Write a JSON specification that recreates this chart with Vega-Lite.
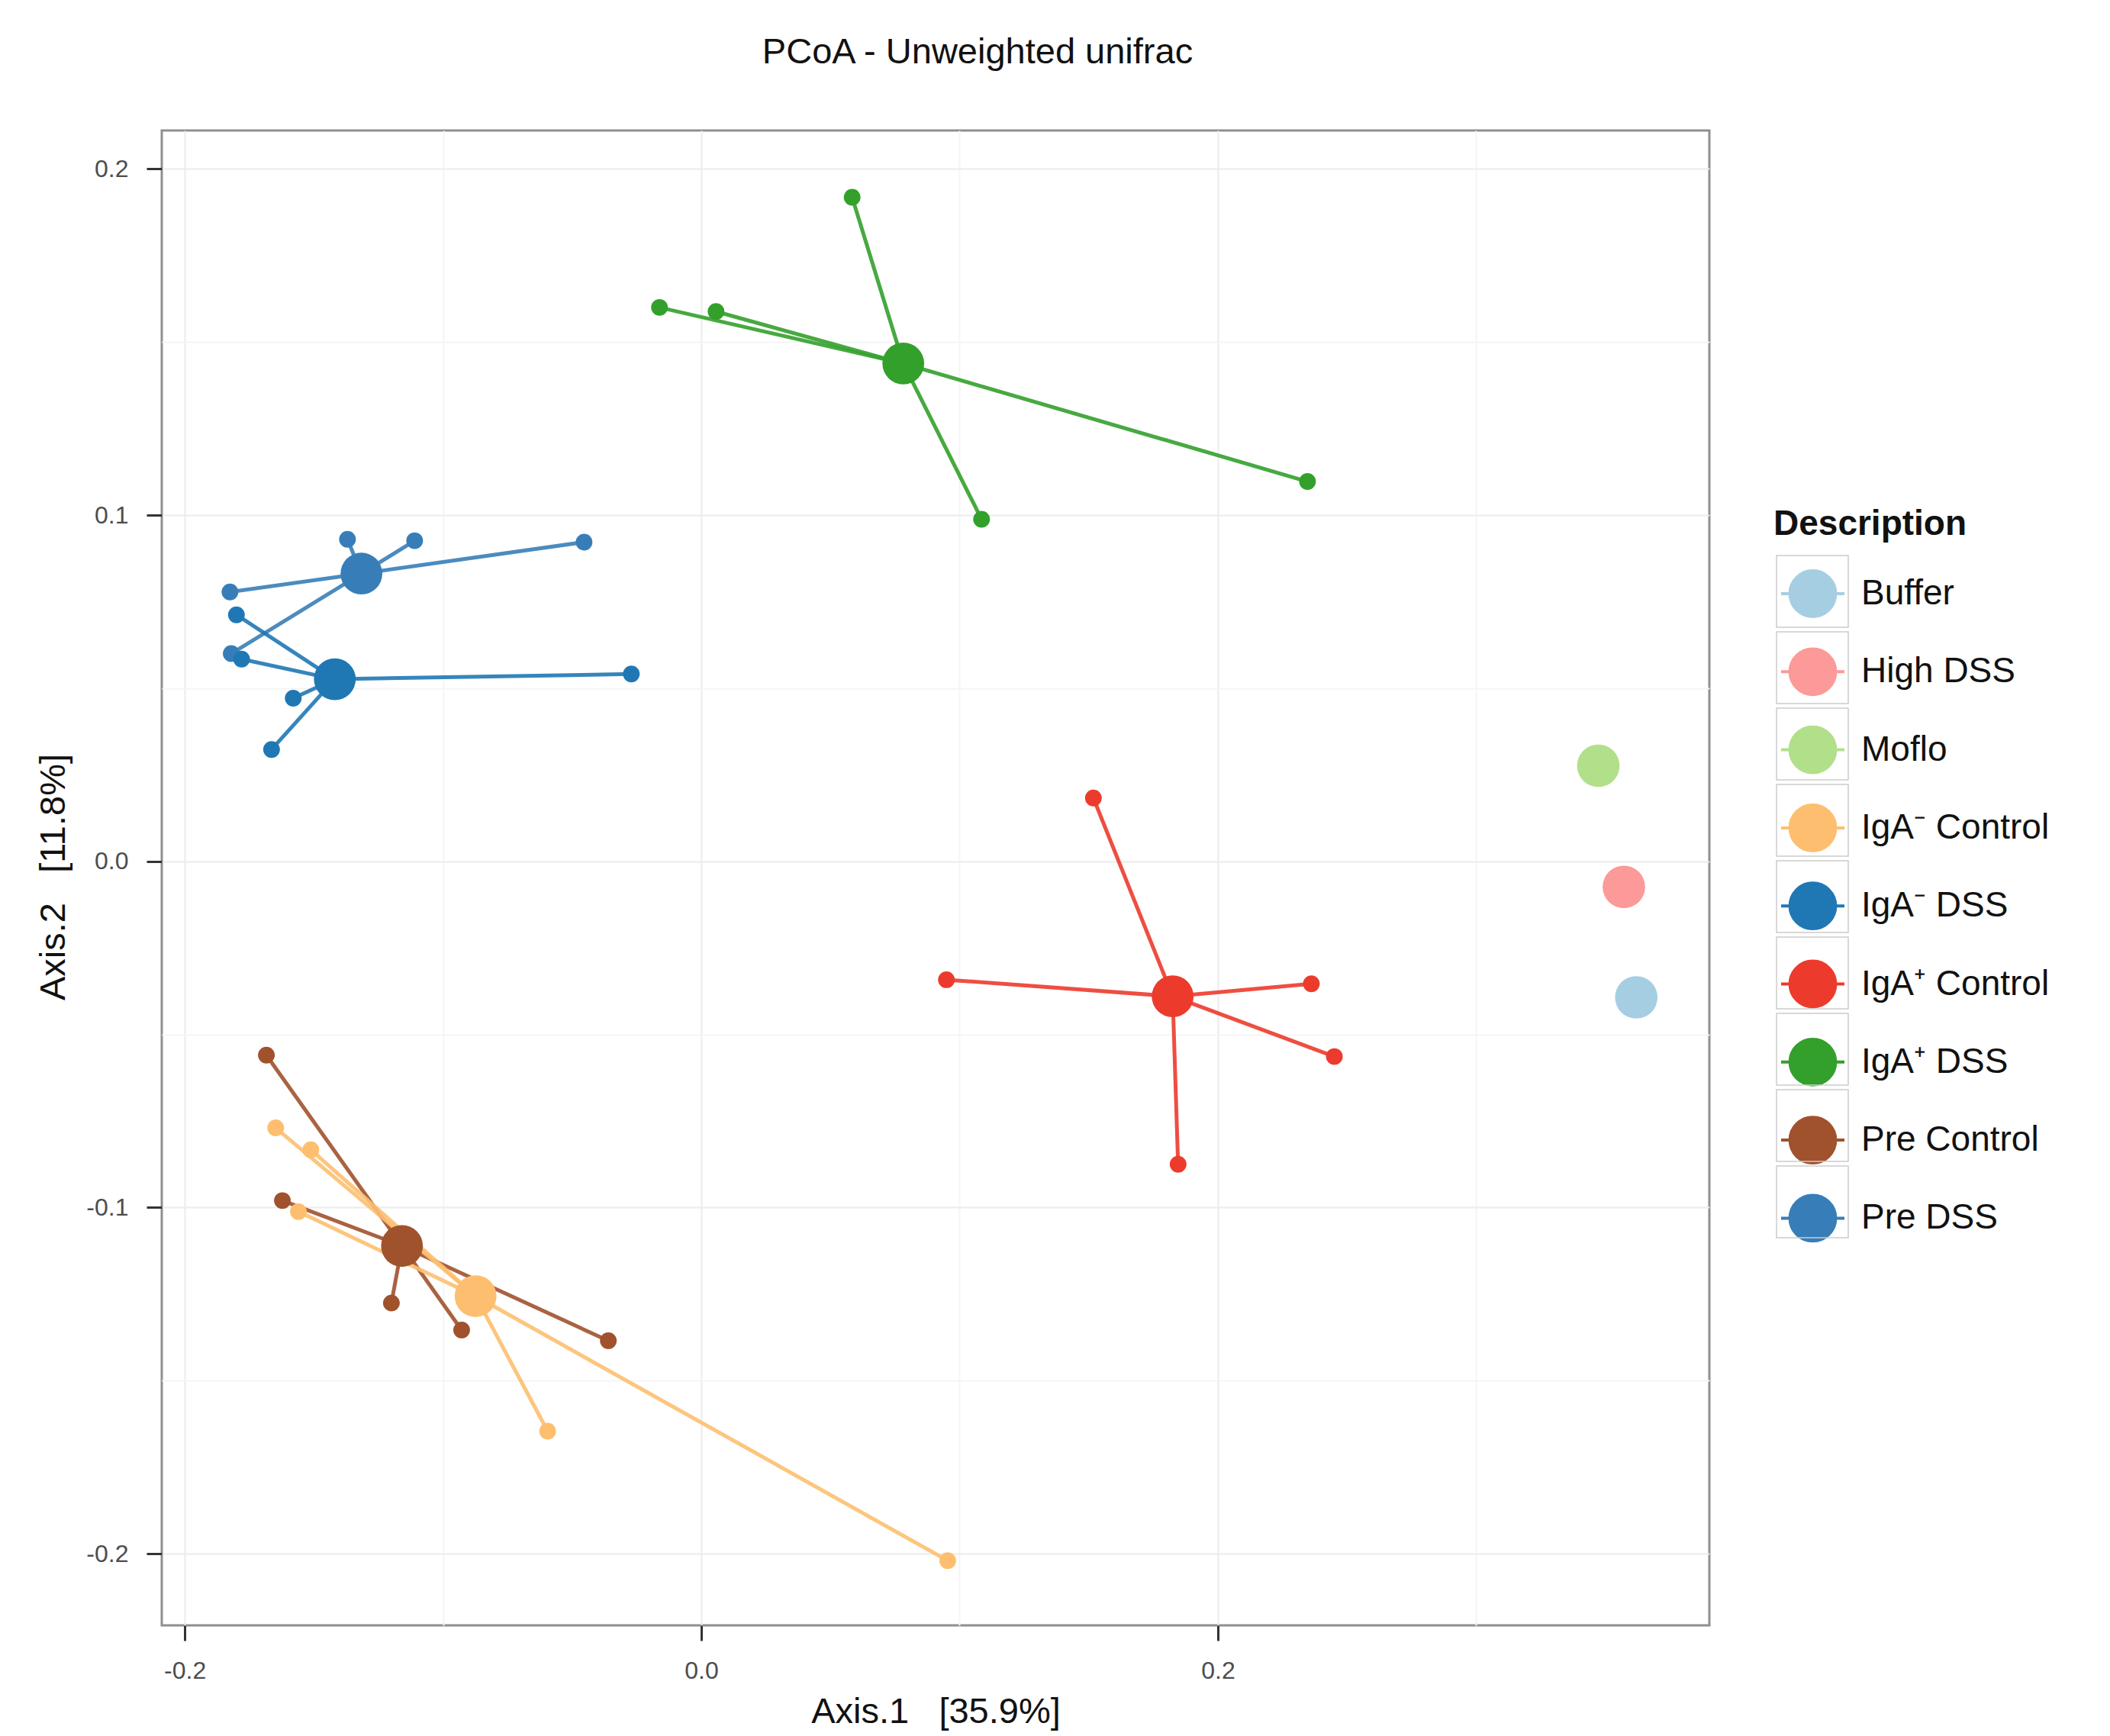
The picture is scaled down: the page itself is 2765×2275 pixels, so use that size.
{
  "$schema": "https://vega.github.io/schema/vega-lite/v6.json",
  "width": 2028,
  "height": 1959,
  "autosize": {"type": "none"},
  "padding": {"left": 212, "top": 171, "right": 525, "bottom": 145},
  "background": "white",
  "title": {"text": "PCoA - Unweighted unifrac", "fontSize": 47, "fontWeight": "normal", "font": "Liberation Sans", "color": "#111111", "anchor": "middle", "dx": 55, "offset": 78},
  "config": {
    "view": {"stroke": "#8f8f8f", "strokeWidth": 3, "fill": "white"},
    "font": "Liberation Sans"
  },
  "data": {"values": [
    {"g": "IgA⁺ DSS", "kind": "sample", "x": 0.0584, "y": 0.1918, "cx": 0.0782, "cy": 0.1438},
    {"g": "IgA⁺ DSS", "kind": "sample", "x": -0.0162, "y": 0.160, "cx": 0.0782, "cy": 0.1438},
    {"g": "IgA⁺ DSS", "kind": "sample", "x": 0.0057, "y": 0.1588, "cx": 0.0782, "cy": 0.1438},
    {"g": "IgA⁺ DSS", "kind": "sample", "x": 0.2347, "y": 0.1097, "cx": 0.0782, "cy": 0.1438},
    {"g": "IgA⁺ DSS", "kind": "sample", "x": 0.1085, "y": 0.0988, "cx": 0.0782, "cy": 0.1438},
    {"g": "IgA⁺ DSS", "kind": "centroid", "x": 0.0782, "y": 0.1438},
    {"g": "Pre DSS", "kind": "sample", "x": -0.137, "y": 0.093, "cx": -0.1316, "cy": 0.0831},
    {"g": "Pre DSS", "kind": "sample", "x": -0.111, "y": 0.0926, "cx": -0.1316, "cy": 0.0831},
    {"g": "Pre DSS", "kind": "sample", "x": -0.0454, "y": 0.0922, "cx": -0.1316, "cy": 0.0831},
    {"g": "Pre DSS", "kind": "sample", "x": -0.1825, "y": 0.0778, "cx": -0.1316, "cy": 0.0831},
    {"g": "Pre DSS", "kind": "sample", "x": -0.182, "y": 0.060, "cx": -0.1316, "cy": 0.0831},
    {"g": "Pre DSS", "kind": "centroid", "x": -0.1316, "y": 0.0831},
    {"g": "IgA⁻ DSS", "kind": "sample", "x": -0.180, "y": 0.0712, "cx": -0.1419, "cy": 0.0526},
    {"g": "IgA⁻ DSS", "kind": "sample", "x": -0.178, "y": 0.0584, "cx": -0.1419, "cy": 0.0526},
    {"g": "IgA⁻ DSS", "kind": "sample", "x": -0.158, "y": 0.0471, "cx": -0.1419, "cy": 0.0526},
    {"g": "IgA⁻ DSS", "kind": "sample", "x": -0.1664, "y": 0.0323, "cx": -0.1419, "cy": 0.0526},
    {"g": "IgA⁻ DSS", "kind": "sample", "x": -0.0271, "y": 0.0541, "cx": -0.1419, "cy": 0.0526},
    {"g": "IgA⁻ DSS", "kind": "centroid", "x": -0.1419, "y": 0.0526},
    {"g": "IgA⁺ Control", "kind": "sample", "x": 0.1518, "y": 0.0183, "cx": 0.1825, "cy": -0.039},
    {"g": "IgA⁺ Control", "kind": "sample", "x": 0.0949, "y": -0.0342, "cx": 0.1825, "cy": -0.039},
    {"g": "IgA⁺ Control", "kind": "sample", "x": 0.2362, "y": -0.0354, "cx": 0.1825, "cy": -0.039},
    {"g": "IgA⁺ Control", "kind": "sample", "x": 0.2451, "y": -0.0564, "cx": 0.1825, "cy": -0.039},
    {"g": "IgA⁺ Control", "kind": "sample", "x": 0.1846, "y": -0.0875, "cx": 0.1825, "cy": -0.039},
    {"g": "IgA⁺ Control", "kind": "centroid", "x": 0.1825, "y": -0.039},
    {"g": "Pre Control", "kind": "sample", "x": -0.1684, "y": -0.056, "cx": -0.1159, "cy": -0.1111},
    {"g": "Pre Control", "kind": "sample", "x": -0.1622, "y": -0.098, "cx": -0.1159, "cy": -0.1111},
    {"g": "Pre Control", "kind": "sample", "x": -0.12, "y": -0.1276, "cx": -0.1159, "cy": -0.1111},
    {"g": "Pre Control", "kind": "sample", "x": -0.0928, "y": -0.1354, "cx": -0.1159, "cy": -0.1111},
    {"g": "Pre Control", "kind": "sample", "x": -0.036, "y": -0.1385, "cx": -0.1159, "cy": -0.1111},
    {"g": "Pre Control", "kind": "centroid", "x": -0.1159, "y": -0.1111},
    {"g": "IgA⁻ Control", "kind": "sample", "x": -0.1648, "y": -0.077, "cx": -0.0874, "cy": -0.1256},
    {"g": "IgA⁻ Control", "kind": "sample", "x": -0.1512, "y": -0.0833, "cx": -0.0874, "cy": -0.1256},
    {"g": "IgA⁻ Control", "kind": "sample", "x": -0.156, "y": -0.1012, "cx": -0.0874, "cy": -0.1256},
    {"g": "IgA⁻ Control", "kind": "sample", "x": -0.0595, "y": -0.1646, "cx": -0.0874, "cy": -0.1256},
    {"g": "IgA⁻ Control", "kind": "sample", "x": 0.0954, "y": -0.202, "cx": -0.0874, "cy": -0.1256},
    {"g": "IgA⁻ Control", "kind": "centroid", "x": -0.0874, "y": -0.1256},
    {"g": "Buffer", "kind": "single", "x": 0.362, "y": -0.0393},
    {"g": "High DSS", "kind": "single", "x": 0.3572, "y": -0.0074},
    {"g": "Moflo", "kind": "single", "x": 0.3473, "y": 0.0276}
  ]},
  "encoding": {
    "x": {
      "field": "x", "type": "quantitative",
      "scale": {"domain": [-0.2089, 0.3903], "nice": false, "zero": false},
      "axis": {
        "title": "Axis.1\u00a0\u00a0\u00a0[35.9%]",
        "values": [-0.2, -0.1, 0, 0.1, 0.2, 0.3],
        "labelExpr": "abs(round(datum.value*10)) % 2 == 0 ? replace(format(datum.value, '.1f'), '−', '-') : ''",
        "tickOpacity": {"condition": {"test": "abs(round(datum.value*10)) % 2 == 1", "value": 0}, "value": 1},
        "gridColor": {"condition": {"test": "abs(round(datum.value*10)) % 2 == 1", "value": "#f5f5f5"}, "value": "#ececec"},
        "gridWidth": 2,
        "domain": false,
        "tickSize": 20, "tickWidth": 3, "tickColor": "#333333",
        "labelFontSize": 32, "labelColor": "#4d4d4d", "labelPadding": 24,
        "labelFont": "Liberation Sans",
        "titleFontSize": 47, "titleFontWeight": "normal", "titleColor": "#111111",
        "titleFont": "Liberation Sans",
        "titleX": 1014, "titleY": 113, "titleBaseline": "middle", "titleAlign": "center"
      }
    },
    "y": {
      "field": "y", "type": "quantitative",
      "scale": {"domain": [-0.2207, 0.2111], "nice": false, "zero": false},
      "axis": {
        "title": "Axis.2\u00a0\u00a0\u00a0[11.8%]",
        "values": [-0.2, -0.15, -0.1, -0.05, 0, 0.05, 0.1, 0.15, 0.2],
        "labelExpr": "abs(round(datum.value*100)) % 10 == 0 ? replace(format(datum.value, '.1f'), '−', '-') : ''",
        "tickOpacity": {"condition": {"test": "abs(round(datum.value*100)) % 10 != 0", "value": 0}, "value": 1},
        "gridColor": {"condition": {"test": "abs(round(datum.value*100)) % 10 != 0", "value": "#f5f5f5"}, "value": "#ececec"},
        "gridWidth": 2,
        "domain": false,
        "tickSize": 20, "tickWidth": 3, "tickColor": "#333333",
        "labelFontSize": 32, "labelColor": "#4d4d4d", "labelPadding": 24,
        "labelFont": "Liberation Sans",
        "titleFontSize": 47, "titleFontWeight": "normal", "titleColor": "#111111",
        "titleFont": "Liberation Sans",
        "titleX": -142, "titleY": 978, "titleAngle": -90, "titleBaseline": "middle", "titleAlign": "center"
      }
    },
    "color": {
      "field": "g", "type": "nominal",
      "scale": {
        "domain": ["Buffer", "High DSS", "Moflo", "IgA⁻ Control", "IgA⁻ DSS", "IgA⁺ Control", "IgA⁺ DSS", "Pre Control", "Pre DSS"],
        "range": ["#a6cee3", "#fb9a99", "#b2df8a", "#fdbf6f", "#1f78b4", "#ec3b2c", "#33a02c", "#a0522d", "#377eb8"]
      },
      "legend": {
        "title": "Description",
        "orient": "none", "legendX": 2112, "legendY": 494,
        "padding": 0,
        "titleFontSize": 46, "titleFontWeight": "bold", "titleFont": "Liberation Sans", "titleColor": "#111111", "titlePadding": 23.5, "titleLimit": 0,
        "labelFontSize": 46, "labelFont": "Liberation Sans", "labelColor": "#111111", "labelLimit": 0,
        "symbolType": "M-0.72,0A0.72,0.72 0 1,1 0.72,0A0.72,0.72 0 1,1 -0.72,0Z M-1,0L1,0",
        "symbolSize": 6889, "symbolStrokeWidth": 4, "symbolOpacity": 1,
        "rowPadding": 20.3, "labelOffset": 20, "symbolOffset": 8,
        "encode": {"symbols": {"update": {"stroke": {"scale": "color", "field": "value"}, "strokeWidth": {"value": 4}}}}
      }
    }
  },
  "layer": [
    {
      "transform": [{"filter": "datum.kind == 'sample'"}],
      "mark": {"type": "rule", "strokeWidth": 5, "opacity": 0.9},
      "encoding": {"x2": {"field": "cx"}, "y2": {"field": "cy"}}
    },
    {
      "transform": [{"filter": "datum.kind == 'sample'"}],
      "mark": {"type": "point", "filled": true, "opacity": 1, "size": 480}
    },
    {
      "transform": [{"filter": "datum.kind == 'centroid'"}],
      "mark": {"type": "point", "filled": true, "opacity": 1, "size": 3000}
    },
    {
      "transform": [{"filter": "datum.kind == 'single'"}],
      "mark": {"type": "point", "filled": true, "opacity": 1, "size": 3100}
    },
    {
      "transform": [{"filter": "datum.kind == 'legendkey'"}],
      "mark": {"type": "point", "filled": false, "opacity": 1},
      "encoding": {
        "color": {"value": "#cccccc"},
        "shape": {
          "field": "g", "type": "nominal",
          "scale": {"domain": ["k1", "k2", "k3", "k4", "k5", "k6", "k7", "k8", "k9"], "range": ["square", "square", "square", "square", "square", "square", "square", "square", "square"]},
          "legend": {
            "title": null,
            "orient": "none", "legendX": 2115, "legendY": 556,
            "padding": 0,
            "labelExpr": "''", "labelFontSize": 10,
            "symbolSize": 8836, "rowPadding": 0,
            "encode": {"symbols": {"update": {"fill": {"value": "transparent"}, "stroke": {"value": "#d2d2d2"}, "strokeWidth": {"value": 2.5}, "opacity": {"value": 1}}}}
          }
        }
      }
    }
  ]
}
